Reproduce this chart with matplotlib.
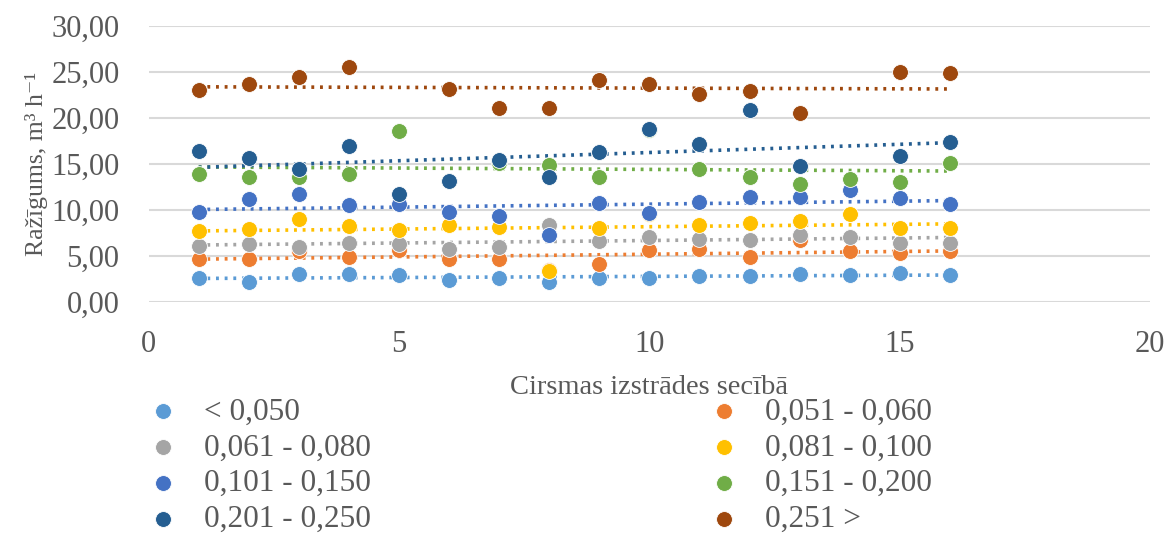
import numpy as np
from matplotlib import pyplot as plt

plt.rcParams['font.family'] = ['Liberation Serif', 'DejaVu Serif']

x = list(range(1, 17))
nan = np.nan

labels = ['< 0,050', '0,051 - 0,060', '0,061 - 0,080', '0,081 - 0,100',
          '0,101 - 0,150', '0,151 - 0,200', '0,201 - 0,250', '0,251 >']
colors = ['#5B9BD5', '#ED7D31', '#A5A5A5', '#FFC000',
          '#4472C4', '#70AD47', '#255E91', '#9E480E']

s_lt050 = [2.65, 2.2, 3.05, 3.05, 2.9, 2.4, 2.65, 2.15, 2.65, 2.65, 2.8, 2.85, 3.0, 2.9, 3.2, 2.9]
s_051 = [4.7, 4.7, 5.5, 4.85, 5.65, 4.7, 4.7, 3.5, 4.1, 5.65, 5.8, 4.85, 6.7, 5.5, 5.35, 5.5]
s_061 = [6.1, 6.3, 5.95, 6.45, 6.3, 5.8, 5.95, 8.4, 6.6, 7.1, 6.8, 6.7, 7.3, 7.1, 6.45, 6.45]
s_081 = [7.7, 7.9, 9.0, 8.25, 7.8, 8.4, 8.2, 3.4, 8.0, 9.6, 8.4, 8.6, 8.8, 9.6, 8.1, 8.1]
s_101 = [9.8, 11.2, 11.7, 10.5, 10.7, 9.75, 9.35, 7.3, 10.8, 9.7, 10.9, 11.45, 11.4, 12.2, 11.3, 10.7]
s_151 = [13.9, 13.6, 13.6, 13.9, 18.6, 13.2, 15.1, 14.9, 13.55, 18.7, 14.5, 13.55, 12.8, 13.4, 13.1, 15.1]
s_201 = [16.4, 15.7, 14.5, 17.0, 11.8, 13.2, 15.4, 13.6, 16.3, 18.8, 17.2, 20.9, 14.8, nan, 15.9, 17.4]
s_251 = [23.1, 23.7, 24.5, 25.6, nan, 23.2, 21.1, 21.1, 24.1, 23.7, 22.6, 22.9, 20.6, nan, 25.0, 24.9]

series = [s_lt050, s_051, s_061, s_081, s_101, s_151, s_201, s_251]
grey = '#595959'

fig = plt.figure(figsize=(11.7, 5.35), dpi=100)
ax = fig.add_axes([0.127, 0.4355, 0.856, 0.5155])

handles = []
for vals, col, lab in zip(series, colors, labels):
    xv = np.array(x, dtype=float)
    yv = np.array(vals, dtype=float)
    ok = ~np.isnan(yv)
    # linear trendline, as in the source chart
    k, b = np.polyfit(xv[ok], yv[ok], 1)
    ax.plot([1, 16], [k * 1 + b, k * 16 + b], linestyle=(0, (0.8, 1.6)),
            color=col, lw=2.6, zorder=2)
    h = ax.scatter(xv[ok], yv[ok], s=130, color=col, edgecolors='white',
                   linewidths=0.6, zorder=3, label=lab)
    handles.append(h)

ax.set_xlim(0, 20)
ax.set_ylim(0, 30)
ax.set_xticks([0, 5, 10, 15, 20])
ax.set_yticks(range(0, 31, 5))
ax.set_yticklabels(['%d,00' % v for v in range(0, 31, 5)])
ax.grid(axis='y', color='#d9d9d9', lw=1.5)
ax.set_axisbelow(True)
for sp in ax.spines.values():
    sp.set_visible(False)
ax.tick_params(length=0, labelsize=22, colors=grey)
ax.tick_params(axis='y', pad=21)
ax.tick_params(axis='x', pad=20)
ax.set_xlabel('Cirsmas izstrādes secībā', fontsize=20.5, color=grey, labelpad=12)
ax.set_ylabel('Ražīgums, m³ h⁻¹', fontsize=18.5, color=grey, labelpad=2)

leg_kw = dict(frameon=False, fontsize=22.5, handletextpad=0.81, labelspacing=0.22,
              markerscale=1.0, borderaxespad=0, borderpad=0, handlelength=1.0)
l1 = fig.legend(handles[0::2], labels[0::2], loc='upper left',
                bbox_to_anchor=(0.126, 0.257), **leg_kw)
l2 = fig.legend(handles[1::2], labels[1::2], loc='upper left',
                bbox_to_anchor=(0.6055, 0.257), **leg_kw)
for lg in (l1, l2):
    for t in lg.get_texts():
        t.set_color(grey)

plt.savefig('out.png', dpi=100)
